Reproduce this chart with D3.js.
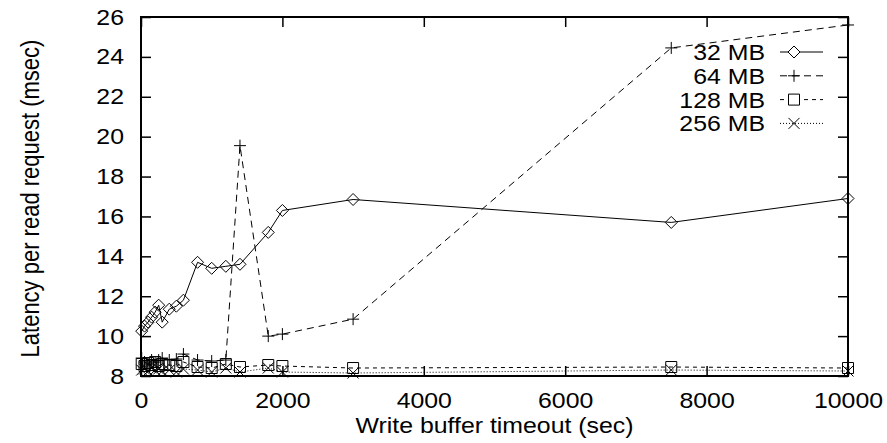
<!DOCTYPE html>
<html>
<head>
<meta charset="utf-8">
<script src="https://cdn.jsdelivr.net/npm/d3@7"></script>
<style>
body { margin: 0; background: #fff; }
text { font-family: "Liberation Sans", Arial, sans-serif; fill: #000; }
</style>
</head>
<body>
<script>
var width = 887, height = 443;
var margin = {top: 17, right: 39, bottom: 67, left: 141};

// write buffer timeout (sec)
var timeouts = [10, 50, 100, 150, 200, 250, 300, 400, 500, 600, 800, 1000, 1200, 1400, 1800, 2000, 3000, 7500, 10000];
var lat32  = [10.25, 10.5, 10.7, 10.95, 11.2, 11.55, 10.7, 11.35, 11.5, 11.8, 13.7, 13.4, 13.5, 13.6, 15.2, 16.3, 16.85, 15.7, 16.9];
var lat64  = [8.9, 8.7, 8.6, 8.8, 8.7, 8.8, 8.9, 8.8, 8.85, 9.1, 8.8, 8.75, 8.8, 19.55, 10.0, 10.1, 10.85, 24.45, 25.6];
var lat128 = [8.6, 8.5, 8.65, 8.55, 8.7, 8.5, 8.6, 8.55, 8.5, 8.7, 8.45, 8.4, 8.6, 8.45, 8.55, 8.5, 8.4, 8.45, 8.4];
var lat256 = [8.3, 8.35, 8.25, 8.4, 8.3, 8.35, 8.25, 8.3, 8.2, 8.35, 8.3, 8.2, 8.4, 8.2, 8.4, 8.2, 8.15, 8.3, 8.25];
var seriesNames = ["32 MB", "64 MB", "128 MB", "256 MB"];
var xTicks = [0, 2000, 4000, 6000, 8000, 10000];
var yTicks = [8, 10, 12, 14, 16, 18, 20, 22, 24, 26];

var series = [
  {name: seriesNames[0], values: lat32,  dash: null,  marker: "diamond"},
  {name: seriesNames[1], values: lat64,  dash: "7,5", marker: "plus"},
  {name: seriesNames[2], values: lat128, dash: "4,4", marker: "square"},
  {name: seriesNames[3], values: lat256, dash: "1,2", marker: "cross"}
];

var w = width - margin.left - margin.right;
var h = height - margin.top - margin.bottom;
var fs = "22px";
var k = 1.13; // the original picture is a bit wider than tall

var svg = d3.select("body").append("svg")
  .attr("width", width).attr("height", height);
var g = svg.append("g")
  .attr("transform", "translate(" + margin.left + "," + margin.top + ")");

var x = d3.scaleLinear().domain([0, 10000]).range([0, w]);
var y = d3.scaleLinear().domain([8, 26]).range([h, 0]);

// widen text horizontally around its own anchor
function stretch(sel) {
  sel.each(function() {
    var t = d3.select(this);
    var tx = +t.attr("x") || 0, ty = +t.attr("y") || 0;
    t.attr("x", 0).attr("y", 0)
      .attr("transform", "translate(" + tx + "," + ty + ") scale(" + k + ",1)");
  });
}

function markerPath(type) {
  var s = 6;
  if (type === "diamond") return "M0," + (-s) + "L" + s + ",0L0," + s + "L" + (-s) + ",0Z";
  if (type === "plus") return "M" + (-s) + ",0H" + s + "M0," + (-s) + "V" + s;
  if (type === "square") return "M-5.5,-5.5H5.5V5.5H-5.5Z";
  return "M-5.5,-5.5L5.5,5.5M-5.5,5.5L5.5,-5.5";
}

// axes with inward ticks, mirrored
g.append("g").attr("transform", "translate(0," + h + ")")
  .call(d3.axisBottom(x).tickValues(xTicks).tickSize(-10).tickPadding(16).tickFormat(d3.format("d")))
  .call(function(a) { a.select(".domain").remove(); a.selectAll("text").attr("font-size", fs).call(stretch); });
g.append("g")
  .call(d3.axisTop(x).tickValues(xTicks).tickSize(-10).tickFormat(""))
  .call(function(a) { a.select(".domain").remove(); });
g.append("g")
  .call(d3.axisLeft(y).tickValues(yTicks).tickSize(-10).tickPadding(17))
  .call(function(a) { a.select(".domain").remove(); a.selectAll("text").attr("font-size", fs).call(stretch); });
g.append("g").attr("transform", "translate(" + w + ",0)")
  .call(d3.axisRight(y).tickValues(yTicks).tickSize(-10).tickFormat(""))
  .call(function(a) { a.select(".domain").remove(); });
g.selectAll(".tick line").attr("stroke", "#000").attr("stroke-width", 1.5);

var line = d3.line().x(function(d) { return x(d[0]); }).y(function(d) { return y(d[1]); });

series.forEach(function(s) {
  var pts = timeouts.map(function(t, i) { return [t, s.values[i]]; });
  g.append("path").datum(pts)
    .attr("d", line).attr("fill", "none").attr("stroke", "#000").attr("stroke-width", 1)
    .attr("stroke-dasharray", s.dash);
  g.selectAll(null).data(pts).enter().append("path")
    .attr("d", markerPath(s.marker))
    .attr("transform", function(d) { return "translate(" + x(d[0]) + "," + y(d[1]) + ")"; })
    .attr("fill", "none").attr("stroke", "#000").attr("stroke-width", 1);
});

// frame
g.append("rect").attr("width", w).attr("height", h)
  .attr("fill", "none").attr("stroke", "#000").attr("stroke-width", 2);

// legend
var legend = g.append("g").attr("transform", "translate(" + (765 - margin.left) + "," + (52 - margin.top) + ")");
series.forEach(function(s, i) {
  var row = legend.append("g").attr("transform", "translate(0," + (i * 23.8) + ")");
  row.append("text").attr("x", 0).attr("y", 8).attr("text-anchor", "end")
    .attr("font-size", fs).text(s.name).call(stretch);
  row.append("line").attr("x1", 15).attr("x2", 58).attr("y1", 0).attr("y2", 0)
    .attr("stroke", "#000").attr("stroke-width", 1).attr("stroke-dasharray", s.dash);
  row.append("path").attr("d", markerPath(s.marker))
    .attr("transform", "translate(29,0)")
    .attr("fill", s.marker === "square" || s.marker === "diamond" ? "#fff" : "none")
    .attr("stroke", "#000");
});

// axis labels
svg.append("text").attr("x", margin.left + w / 2).attr("y", 433)
  .attr("text-anchor", "middle").attr("font-size", fs)
  .text("Write buffer timeout (sec)").call(stretch);
svg.append("text")
  .attr("transform", "translate(39," + (margin.top + h / 2 + 2) + ") rotate(-90) scale(1," + k + ")")
  .attr("text-anchor", "middle").attr("font-size", "22px")
  .text("Latency per read request (msec)");
</script>
</body>
</html>
